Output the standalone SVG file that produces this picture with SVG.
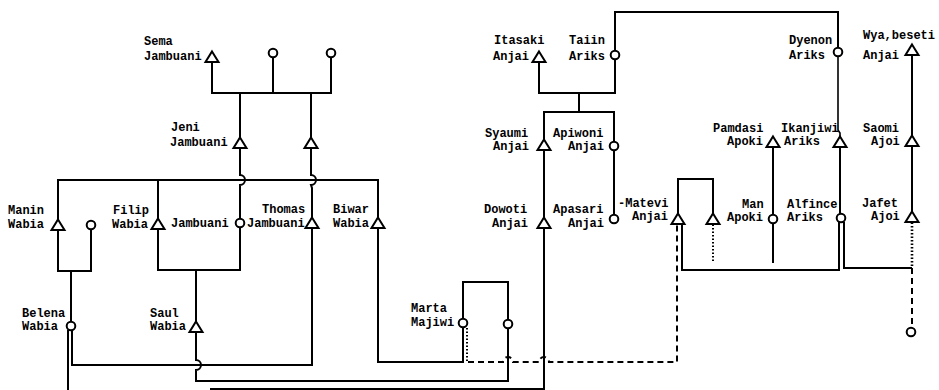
<svg xmlns="http://www.w3.org/2000/svg" xmlns:xlink="http://www.w3.org/1999/xlink" width="939" height="390" viewBox="0 0 939 390">
<style>
.sym{fill:#fff;stroke:#000;stroke-width:2}
.ln{fill:none;stroke:#000;stroke-width:2}
.dash{fill:none;stroke:#000;stroke-width:2;stroke-dasharray:6,4}
.dot{fill:none;stroke:#000;stroke-width:2;stroke-dasharray:1.5,2}
.lbl{font-family:"Liberation Mono","DejaVu Sans Mono",monospace;font-size:12px;font-weight:bold;fill:#000}
</style>
<defs>
<path id="tri" d="M0,-5.5 L6.5,5 L-6.5,5 Z"/>
<circle id="cir" r="4.3"/>
</defs>
<rect width="939" height="390" fill="#fff"/>
<g id="connectors">
<path class="ln" d="M212,62 V93 H331 V57.5 M273,57.5 V93"/>
<path class="ln" d="M240,93 V137.5 M311,93 V137.5"/>
<path class="ln" d="M240,148 V175 a5,5 0 0 1 0,10 V218.7"/>
<path class="ln" d="M311,148 V175 a5,5 0 0 1 0,10 L312,188 V217.5"/>
<path class="ln" d="M58,219.5 V180 H378 V217.5 M158,180 V218.5"/>
<path class="ln" d="M58,230 V271 H91 V229.3 M71,271 V321.7"/>
<path class="ln" d="M158,229.5 V270 H240 V227.3 M196,270 V321.5"/>
<path class="ln" d="M68,330 V390 M72,330 V365 H312 V228.5"/>
<path class="ln" d="M196,332.5 V360 a5,5 0 0 1 0,10 V381 H508 V328.3"/>
<path class="ln" d="M544,228.5 V389 H210"/>
<path class="ln" d="M378,228.5 V362 H463 V327.3"/>
<path class="ln" d="M463,318.7 V282 H508 V319.7"/>
<path class="dot" d="M467,328 V361"/>
<path class="dash" d="M468,362 H503 a5,5 0 0 1 10,0 H539 a5,5 0 0 1 10,0 H677 V225"/>
<path class="ln" d="M539,62.5 V93 H615 V59.3 M579,93 V112 M544,139.5 V112 H614 V141.7"/>
<path class="ln" d="M615,50.7 V12 H838 V47.7"/>
<path class="ln" style="stroke-width:1.6" d="M838,56.3 V130 L840,133 V136.5"/>
<path class="ln" d="M840,147 V213.7"/>
<path class="ln" d="M614,150.3 V214.7 M544,150.5 V217.5"/>
<path class="ln" d="M773,147.5 V214.7 M773,223.3 V263"/>
<path class="ln" d="M912,55.5 V135.5 M912,146.5 V211.5"/>
<path class="dot" style="stroke-width:2.6" d="M912,222.5 V268"/>
<path class="dash" d="M912,268 V327.7"/>
<path class="ln" d="M678,213.5 V179 H713 V213.5"/>
<path class="dot" d="M713,224.5 V263"/>
<path class="ln" d="M839,222 V270 H682 V224.5 M844,222 V268 H912"/>
</g>
<g id="n-sema"><use href="#tri" x="212" y="57" class="sym"/><text class="lbl" x="144" y="45">Sema</text><text class="lbl" x="144" y="60">Jambuani</text></g>
<g id="n-c273"><use href="#cir" x="273" y="53" class="sym"/></g>
<g id="n-c331"><use href="#cir" x="331" y="53" class="sym"/></g>
<g id="n-jeni"><use href="#tri" x="240" y="143" class="sym"/><text class="lbl" x="171" y="131">Jeni</text><text class="lbl" x="170" y="146">Jambuani</text></g>
<g id="n-t311"><use href="#tri" x="311" y="143" class="sym"/></g>
<g id="n-manin"><use href="#tri" x="58" y="225" class="sym"/><text class="lbl" x="8" y="214">Manin</text><text class="lbl" x="8" y="228">Wabia</text></g>
<g id="n-c91"><use href="#cir" x="91" y="225" class="sym"/></g>
<g id="n-filip"><use href="#tri" x="158" y="224" class="sym"/><text class="lbl" x="113" y="214">Filip</text><text class="lbl" x="112" y="228">Wabia</text></g>
<g id="n-jambuani"><use href="#cir" x="240" y="223" class="sym"/><text class="lbl" x="171" y="227">Jambuani</text></g>
<g id="n-thomas"><use href="#tri" x="312" y="223" class="sym"/><text class="lbl" x="262" y="213">Thomas</text><text class="lbl" x="247" y="227">Jambuani</text></g>
<g id="n-biwar"><use href="#tri" x="378" y="223" class="sym"/><text class="lbl" x="333" y="213">Biwar</text><text class="lbl" x="333" y="227">Wabia</text></g>
<g id="n-belena"><use href="#cir" x="71" y="326" class="sym"/><text class="lbl" x="22" y="317">Belena</text><text class="lbl" x="22" y="330">Wabia</text></g>
<g id="n-saul"><use href="#tri" x="196" y="327" class="sym"/><text class="lbl" x="150" y="317">Saul</text><text class="lbl" x="150" y="330">Wabia</text></g>
<g id="n-marta"><use href="#cir" x="463" y="323" class="sym"/><text class="lbl" x="411" y="312">Marta</text><text class="lbl" x="411" y="326">Majiwi</text></g>
<g id="n-c508"><use href="#cir" x="508" y="324" class="sym"/></g>
<g id="n-itasaki"><use href="#tri" x="539" y="57" class="sym"/><text class="lbl" x="494" y="44">Itasaki</text><text class="lbl" x="493" y="60">Anjai</text></g>
<g id="n-taiin"><use href="#cir" x="615" y="55" class="sym"/><text class="lbl" x="569" y="44">Taiin</text><text class="lbl" x="569" y="60">Ariks</text></g>
<g id="n-syaumi"><use href="#tri" x="544" y="145" class="sym"/><text class="lbl" x="485" y="137">Syaumi</text><text class="lbl" x="493" y="150">Anjai</text></g>
<g id="n-apiwoni"><use href="#cir" x="614" y="146" class="sym"/><text class="lbl" x="553" y="137">Apiwoni</text><text class="lbl" x="568" y="150">Anjai</text></g>
<g id="n-dowoti"><use href="#tri" x="544" y="223" class="sym"/><text class="lbl" x="484" y="213">Dowoti</text><text class="lbl" x="492" y="227">Anjai</text></g>
<g id="n-apasari"><use href="#cir" x="614" y="219" class="sym"/><text class="lbl" x="553" y="213">Apasari</text><text class="lbl" x="568" y="227">Anjai</text></g>
<g id="n-matevi"><use href="#tri" x="678" y="219" class="sym"/><text class="lbl" x="618" y="207">-Matevi</text><text class="lbl" x="632" y="220">Anjai</text></g>
<g id="n-t713"><use href="#tri" x="713" y="219" class="sym"/></g>
<g id="n-pamdasi"><use href="#tri" x="773" y="142" class="sym"/><text class="lbl" x="713" y="132">Pamdasi</text><text class="lbl" x="727" y="145">Apoki</text></g>
<g id="n-man"><use href="#cir" x="773" y="219" class="sym"/><text class="lbl" x="742" y="208">Man</text><text class="lbl" x="727" y="221">Apoki</text></g>
<g id="n-ikanjiwi"><use href="#tri" x="840" y="142" class="sym"/><text class="lbl" x="781" y="132">Ikanjiwi</text><text class="lbl" x="784" y="145">Ariks</text></g>
<g id="n-alfince"><use href="#cir" x="841" y="218" class="sym"/><text class="lbl" x="787" y="208">Alfince</text><text class="lbl" x="787" y="221">Ariks</text></g>
<g id="n-dyenon"><use href="#cir" x="838" y="52" class="sym"/><text class="lbl" x="789" y="44">Dyenon</text><text class="lbl" x="789" y="59">Ariks</text></g>
<g id="n-wya"><use href="#tri" x="912" y="50" class="sym"/><text class="lbl" x="863" y="39">Wya,beseti</text><text class="lbl" x="863" y="59">Anjai</text></g>
<g id="n-saomi"><use href="#tri" x="912" y="141" class="sym"/><text class="lbl" x="863" y="132">Saomi</text><text class="lbl" x="871" y="145">Ajoi</text></g>
<g id="n-jafet"><use href="#tri" x="912" y="217" class="sym"/><text class="lbl" x="862" y="207">Jafet</text><text class="lbl" x="871" y="220">Ajoi</text></g>
<g id="n-c911"><use href="#cir" x="911" y="332" class="sym"/></g>
</svg>
